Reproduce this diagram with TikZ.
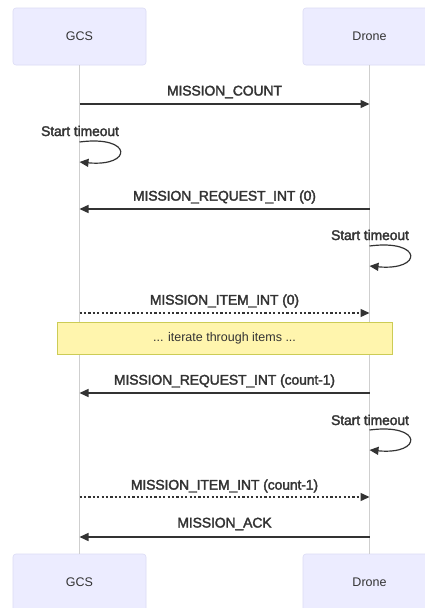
\documentclass[tikz,border=0pt]{standalone}
\usepackage{fontspec}
\setmainfont{Liberation Sans}
\newfontfamily\msgfont[FakeBold=2.2,LetterSpace=-1]{Liberation Sans}
\usetikzlibrary{arrows.meta}
\definecolor{actorfill}{HTML}{ECECFF}
\definecolor{actorline}{HTML}{DCDCF5}
\definecolor{lifecol}{HTML}{CFCFCF}
\definecolor{txtcol}{HTML}{333333}
\definecolor{notefill}{HTML}{FFF5AD}
\definecolor{noteline}{HTML}{CCCC55}
\tikzset{
  actor/.style={draw=actorline, fill=actorfill, rounded corners=3pt, minimum width=133pt, minimum height=57pt, inner sep=0pt, font=\fontsize{12.5}{14}\selectfont, text=txtcol, line width=0.6pt},
  lifeline/.style={draw=lifecol, line width=0.8pt},
  msg/.style={draw=txtcol, line width=1.4pt, -{Triangle[length=9pt,width=8pt]}},
  dmsg/.style={msg, dash pattern=on 2.2pt off 2.2pt},
  loopmsg/.style={draw=txtcol, line width=1.2pt, -{Triangle[length=9pt,width=8pt]}},
  msgtext/.style={font=\msgfont\fontsize{14}{15}\selectfont, text=txtcol, inner sep=0pt},
  notebox/.style={draw=noteline, fill=notefill, line width=0.8pt, minimum width=335pt, minimum height=32pt, inner sep=0pt, font=\fontsize{12.5}{14}\selectfont, text=txtcol}
}
\begin{document}
\begin{tikzpicture}[x=1pt,y=-1pt]
\useasboundingbox (0,0) rectangle (425,608);
\fill[white] (0,0) rectangle (425,608);
% actors
\node[actor] (gcsTop) at (79.5,36.5) {GCS};
\node[actor] (droneTop) at (369.5,36.5) {Drone};
\node[actor] (gcsBot) at (79.5,582.5) {GCS};
\node[actor] (droneBot) at (369.5,582.5) {Drone};
% lifelines
\draw[lifeline] (gcsTop.south) -- (gcsBot.north);
\draw[lifeline] (droneTop.south) -- (droneBot.north);
% coordinates
\foreach \n/\y in {1/104,2/209,3/313,4/393,5/497,6/537}{
  \coordinate (g\n) at (79.5,\y);
  \coordinate (d\n) at (369.5,\y);
}
\coordinate (la) at (79.5,142); \coordinate (lb) at (79.5,162);
\coordinate (ma) at (369.5,246); \coordinate (mb) at (369.5,266);
\coordinate (na) at (369.5,430); \coordinate (nb) at (369.5,450);
% messages
\draw[msg] (g1) -- (d1);
\node[msgtext] (t1) at (224.5,92) {MISSION\_COUNT};
\draw[loopmsg] (la) .. controls (133,135) and (133,167) .. (lb);
\node[msgtext] (t1b) at (80,131) {Start timeout};
\draw[msg] (d2) -- (g2);
\node[msgtext] (t2) at (224.5,197) {MISSION\_REQUEST\_INT (0)};
\draw[loopmsg] (ma) .. controls (423,239) and (423,271) .. (mb);
\node[msgtext] (t2b) at (370,235) {Start timeout};
\draw[dmsg] (g3) -- (d3);
\node[msgtext] (t3) at (224.5,301) {MISSION\_ITEM\_INT (0)};
% note
\node[notebox] (note) at (224.5,338) {... iterate through items ...};
\draw[msg] (d4) -- (g4);
\node[msgtext] (t4) at (224.5,381) {MISSION\_REQUEST\_INT (count-1)};
\draw[loopmsg] (na) .. controls (423,423) and (423,455) .. (nb);
\node[msgtext] (t4b) at (370,420) {Start timeout};
\draw[dmsg] (g5) -- (d5);
\node[msgtext] (t5) at (224.5,486) {MISSION\_ITEM\_INT (count-1)};
\draw[msg] (d6) -- (g6);
\node[msgtext] (t6) at (224.5,524) {MISSION\_ACK};
\end{tikzpicture}
\end{document}
